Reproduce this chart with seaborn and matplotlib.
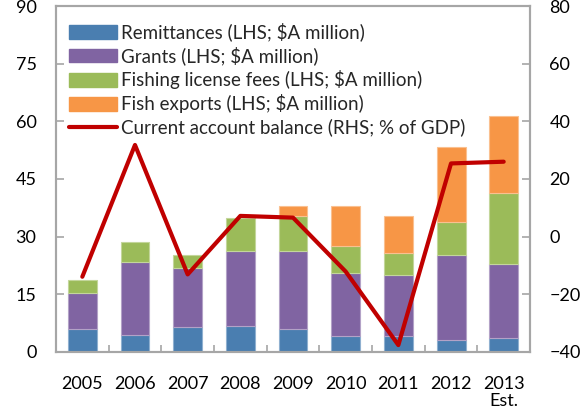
import numpy as np
import pandas as pd
import matplotlib
matplotlib.use("Agg")
import matplotlib.pyplot as plt
from matplotlib.patches import Patch
from matplotlib.lines import Line2D
import seaborn as sns

# Years (last one is an estimate)
years = ["2005", "2006", "2007", "2008", "2009", "2010", "2011", "2012", "2013\nEst."]

# Left axis series, $A million
remittances = [5.9, 4.5, 6.4, 6.8, 5.9, 4.1, 4.1, 3.1, 3.6]
grants = [9.5, 18.9, 15.5, 19.4, 20.3, 16.5, 16.0, 22.2, 19.4]
fishing_fees = [3.2, 5.2, 3.4, 8.7, 9.1, 7.1, 5.7, 8.6, 18.4]
fish_exports = [0.0, 0.0, 0.0, 0.0, 2.8, 10.4, 9.5, 19.3, 20.0]

# Right axis series, % of GDP
current_account = [-13.9, 31.8, -13.1, 7.2, 6.6, -12.1, -37.6, 25.4, 26.0]

left_ticks = [0, 15, 30, 45, 60, 75, 90]
right_ticks = [-40, -20, 0, 20, 40, 60, 80]

labels = [
    "Remittances (LHS; $A million)",
    "Grants (LHS; $A million)",
    "Fishing license fees (LHS; $A million)",
    "Fish exports (LHS; $A million)",
    "Current account balance (RHS; % of GDP)",
]
colors = ["#4A7EB0", "#8064A2", "#9BBB59", "#F79646"]
edge_colors = ["#8FB0D0", "#B3A2C7", "#C3D69B", "#FAC090"]
line_color = "#C00000"

sns.set_theme(style="white")
plt.rcParams["font.family"] = ["Lato", "DejaVu Sans"]

fig = plt.figure(figsize=(5.82, 4.17), dpi=100)
ax = fig.add_axes([0.0962, 0.1559, 0.8145, 0.8297])

df = pd.DataFrame({
    "year": years,
    "remittances": remittances,
    "grants": grants,
    "fishing_fees": fishing_fees,
    "fish_exports": fish_exports,
})

bottom = np.zeros(len(years))
for col, c, ec in zip(["remittances", "grants", "fishing_fees", "fish_exports"], colors, edge_colors):
    n_before = len(ax.patches)
    sns.barplot(data=df, x="year", y=col, bottom=bottom, color=c, width=0.55,
                edgecolor=ec, linewidth=0.8, saturation=1, ax=ax, order=years)
    for p in ax.patches[n_before:]:
        if p.get_height() == 0:
            p.set_visible(False)
    bottom = bottom + df[col].to_numpy()

ax.set_xlim(-0.5, len(years) - 0.5)
ax.set_ylim(0, 90)
ax.set_yticks(left_ticks)
ax.set_xlabel("")
ax.set_ylabel("")

# Secondary axis for the current account balance
ax2 = ax.twinx()
sns.lineplot(x=np.arange(len(years)), y=current_account, color=line_color,
             linewidth=3, ax=ax2)
ax2.set_ylim(-40, 80)
ax2.set_yticks(right_ticks)
ax2.set_xlim(-0.5, len(years) - 0.5)

# Frame and ticks
spine_color = "#A6A6A6"
for a in (ax, ax2):
    for s in a.spines.values():
        s.set_color(spine_color)
        s.set_linewidth(1.5)

ax.set_xticks(np.arange(len(years)))
ax.set_xticklabels(years)
ax.set_xticks(np.arange(len(years) + 1) - 0.5, minor=True)
ax.tick_params(axis="x", which="major", length=0, pad=17, labelsize=13, colors="black")
ax.tick_params(axis="x", which="minor", direction="in", length=5, width=1.2, color=spine_color, bottom=True)
ax.tick_params(axis="y", direction="in", length=6, width=1.2, color=spine_color,
               labelsize=13, pad=14, left=True, labelcolor="black")
ax2.tick_params(axis="y", direction="in", length=6, width=1.2, color=spine_color,
                labelsize=13, pad=14, right=True, labelcolor="black")
for lab in ax.get_xticklabels():
    lab.set_linespacing(1.1)

handles = [Patch(facecolor=c, edgecolor=c) for c in colors]
handles.append(Line2D([0], [0], color=line_color, linewidth=3))
ax.legend(handles, labels, loc="upper left", bbox_to_anchor=(0.0, 0.99),
          frameon=False, fontsize=13.5, handlelength=2.55, handleheight=0.72,
          handletextpad=0.2, labelspacing=0.27, borderaxespad=0.3)

fig.savefig("out.png", dpi=100)
